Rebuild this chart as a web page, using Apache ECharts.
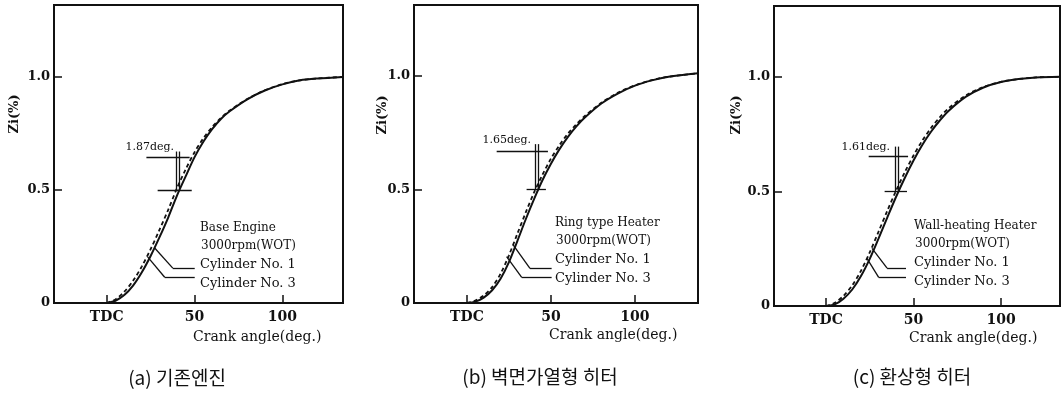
<!DOCTYPE html>
<html>
<head>
<meta charset="utf-8">
<script src="https://cdn.jsdelivr.net/npm/echarts@6/dist/echarts.min.js"></script>
<style>
  html, body { margin: 0; padding: 0; background: #fff; }
  #chart { width: 1062px; height: 394px; }
</style>
</head>
<body>
<div id="chart"></div>
<script>
// Mass fraction burned Zi vs crank angle (deg. ATDC), 3000 rpm WOT

// (a) base engine
const anglesBase = [0, 5, 10, 15, 20, 25, 30, 35, 40, 45, 50, 55, 60, 65, 70, 80, 90, 100, 110, 120, 134.5];
const baseCyl1 = [0, 0.01, 0.035, 0.077, 0.136, 0.208, 0.29, 0.378, 0.475, 0.561, 0.645, 0.713, 0.769, 0.814, 0.848, 0.901, 0.94, 0.967, 0.985, 0.993, 1.0];
const baseCyl3 = [0, 0.016, 0.05, 0.098, 0.162, 0.238, 0.323, 0.412, 0.508, 0.592, 0.667, 0.728, 0.778, 0.818, 0.851, 0.902, 0.941, 0.968, 0.985, 0.993, 1.0];

// (b) ring type heater
const anglesRing = [0, 5, 10, 15, 20, 25, 30, 35, 40, 45, 50, 55, 60, 65, 70, 80, 90, 100, 110, 120, 137.5];
const ringCyl1 = [0, 0.006, 0.024, 0.056, 0.107, 0.18, 0.273, 0.369, 0.459, 0.542, 0.614, 0.677, 0.731, 0.777, 0.816, 0.879, 0.924, 0.958, 0.981, 0.997, 1.012];
const ringCyl3 = [0, 0.011, 0.033, 0.07, 0.129, 0.21, 0.305, 0.399, 0.488, 0.566, 0.636, 0.695, 0.745, 0.787, 0.823, 0.882, 0.927, 0.959, 0.982, 0.997, 1.012];

// (c) wall-heating heater
const anglesWall = [0, 5, 10, 15, 20, 25, 30, 35, 40, 45, 50, 55, 60, 65, 70, 80, 90, 100, 110, 120, 133.7];
const wallCyl1 = [0, 0.007, 0.032, 0.072, 0.131, 0.206, 0.294, 0.386, 0.476, 0.559, 0.635, 0.703, 0.761, 0.81, 0.852, 0.914, 0.954, 0.978, 0.991, 0.998, 1.001];
const wallCyl3 = [0, 0.014, 0.044, 0.09, 0.154, 0.234, 0.324, 0.415, 0.503, 0.584, 0.657, 0.722, 0.777, 0.824, 0.863, 0.92, 0.957, 0.979, 0.991, 0.998, 1.001];

// 50 % burn angle of cylinder No. 1 and the cylinder-to-cylinder gap (deg.)
const burn50Cyl1 = [41.45, 42.45, 41.45];
const burn50Gap = [1.87, 1.65, 1.61];

const xTickValues = [0, 50, 100];
const xTickLabels = ['TDC', '50', '100'];
const yTickValues = [0, 0.5, 1.0];
const yTickLabels = ['0', '0.5', '1.0'];

const caseNames = ['Base Engine', 'Ring type Heater', 'Wall-heating Heater'];
const runCondition = '3000rpm(WOT)';
const cylNames = ['Cylinder No. 1', 'Cylinder No. 3'];
const yName = 'Zi(%)';
const xName = 'Crank angle(deg.)';
const captions = ['(a) 기존엔진', '(b) 벽면가열형 히터', '(c) 환상형 히터'];

const curves = [
  [anglesBase, baseCyl1, baseCyl3],
  [anglesRing, ringCyl1, ringCyl3],
  [anglesWall, wallCyl1, wallCyl3]
];

// ---- layout of the three panels ----
const panelLayout = [
  { left: 54,  top: 5, width: 289, height: 298, xMin: -30,   xMax: 134.5, yMax: 1.318,
    bracket: { vTop: 0.67,  hY: 0.646, hX: [22.6, 47.2], baseX: [29, 48.4] },
    leaders: [[[27.3, 0.243], [37.6, 0.154], [50.1, 0.154]], [[23.3, 0.204], [33, 0.114], [50.1, 0.114]]],
    text: { yName: [15, 114], gap: [174, 147], legend: [200, 228], xName: [193, 337], caption: [177, 378] } },
  { left: 414, top: 5, width: 284, height: 298, xMin: -31.5, xMax: 137.5, yMax: 1.313,
    bracket: { vTop: 0.70,  hY: 0.667, hX: [17.7, 48.2], baseX: [35.5, 47] },
    leaders: [[[27.6, 0.255], [37.5, 0.153], [50.4, 0.153]], [[23.6, 0.204], [32.6, 0.113], [50.4, 0.113]]],
    text: { yName: [383, 115], gap: [531, 140], legend: [555, 223], xName: [549, 335], caption: [540, 377] } },
  { left: 774, top: 6, width: 286, height: 300, xMin: -29.7, xMax: 133.7, yMax: 1.31,
    bracket: { vTop: 0.696, hY: 0.652, hX: [24.4, 46.9], baseX: [33.5, 46.3] },
    leaders: [[[26.3, 0.252], [34.9, 0.165], [45.7, 0.165]], [[23.4, 0.208], [30.1, 0.125], [45.7, 0.125]]],
    text: { yName: [737, 115], gap: [890, 147], legend: [914, 226], xName: [909, 338], caption: [912, 377] } }
];

const INK = '#111';
const SERIF = '"DejaVu Serif", "Liberation Serif", serif';
const HANGUL = '"Noto Sans CJK KR", sans-serif';

const grids = [], xAxes = [], yAxes = [], series = [], graphics = [];

panelLayout.forEach((p, i) => {
  grids.push({
    left: p.left, top: p.top, width: p.width, height: p.height,
    show: true, borderColor: INK, borderWidth: 2, backgroundColor: 'transparent'
  });
  xAxes.push({
    type: 'value', gridIndex: i, min: p.xMin, max: p.xMax,
    axisLine: { show: true, onZero: false, lineStyle: { color: INK, width: 2 } },
    axisTick: { show: true, inside: true, length: 8, customValues: xTickValues, lineStyle: { color: INK, width: 1.5 } },
    axisLabel: {
      show: true, customValues: xTickValues, margin: 7,
      color: INK, fontFamily: SERIF, fontSize: 14, fontWeight: 'bold',
      formatter: v => xTickLabels[xTickValues.indexOf(v)]
    },
    splitLine: { show: false }
  });
  yAxes.push({
    type: 'value', gridIndex: i, min: 0, max: p.yMax,
    axisLine: { show: true, onZero: false, lineStyle: { color: INK, width: 2 } },
    axisTick: { show: true, inside: true, length: 8, customValues: [0.5, 1.0], lineStyle: { color: INK, width: 1.5 } },
    axisLabel: {
      show: true, customValues: yTickValues, margin: 4,
      color: INK, fontFamily: SERIF, fontSize: 13, fontWeight: 'bold',
      formatter: v => yTickLabels[yTickValues.indexOf(v)]
    },
    splitLine: { show: false }
  });

  const [ang, c1, c3] = curves[i];
  const b = p.bracket;
  const x1 = burn50Cyl1[i];
  const x3 = burn50Cyl1[i] - burn50Gap[i];
  const seg = (a, c) => [{ coord: a }, { coord: c }];
  const bracketLines = [
    seg([x1, 0.5], [x1, b.vTop]),
    seg([x3, 0.5], [x3, b.vTop]),
    seg([b.hX[0], b.hY], [b.hX[1], b.hY]),
    seg([b.baseX[0], 0.5], [b.baseX[1], 0.5])
  ];
  p.leaders.forEach(l => {
    bracketLines.push(seg(l[0], l[1]));
    bracketLines.push(seg(l[1], l[2]));
  });

  series.push({
    name: cylNames[0], type: 'line', xAxisIndex: i, yAxisIndex: i,
    data: ang.map((a, k) => [a, c1[k]]),
    smooth: 0.3, showSymbol: false, silent: true,
    lineStyle: { color: INK, width: 2 },
    markLine: {
      silent: true, symbol: 'none', animation: false,
      label: { show: false },
      lineStyle: { color: INK, width: 1.3, type: 'solid' },
      data: bracketLines
    },
    animation: false
  });
  series.push({
    name: cylNames[1], type: 'line', xAxisIndex: i, yAxisIndex: i,
    data: ang.map((a, k) => [a, c3[k]]),
    smooth: 0.3, showSymbol: false, silent: true,
    lineStyle: { color: INK, width: 1.8, type: [4, 3] },
    animation: false
  });

  const t = p.text;
  const txt = (x, y, s, style, extra) => Object.assign({
    type: 'text', x: x, y: y, silent: true,
    style: Object.assign({ text: s, fill: INK, fontFamily: SERIF, fontSize: 12,
      verticalAlign: 'middle', textAlign: 'left' }, style)
  }, extra || {});

  graphics.push(txt(t.yName[0], t.yName[1], yName, { fontSize: 13, textAlign: 'center', fontWeight: 'bold' }, { rotation: Math.PI / 2 }));
  graphics.push(txt(t.gap[0], t.gap[1], burn50Gap[i].toFixed(2) + 'deg.', { fontSize: 11, textAlign: 'right' }));
  graphics.push(txt(t.legend[0], t.legend[1], caseNames[i], { fontSize: 12 }));
  graphics.push(txt(t.legend[0] + 1, t.legend[1] + 18, runCondition, { fontSize: 12 }));
  graphics.push(txt(t.legend[0], t.legend[1] + 37, cylNames[0], { fontSize: 13 }));
  graphics.push(txt(t.legend[0], t.legend[1] + 56, cylNames[1], { fontSize: 13 }));
  graphics.push(txt(t.xName[0], t.xName[1], xName, { fontSize: 14 }));
  graphics.push(txt(t.caption[0], t.caption[1], captions[i], { fontFamily: HANGUL, fontSize: 19, textAlign: 'center' }));
});

const chart = echarts.init(document.getElementById('chart'), null, { renderer: 'canvas' });
chart.setOption({
  backgroundColor: '#fff',
  animation: false,
  grid: grids,
  xAxis: xAxes,
  yAxis: yAxes,
  series: series,
  graphic: graphics
});
</script>
</body>
</html>
